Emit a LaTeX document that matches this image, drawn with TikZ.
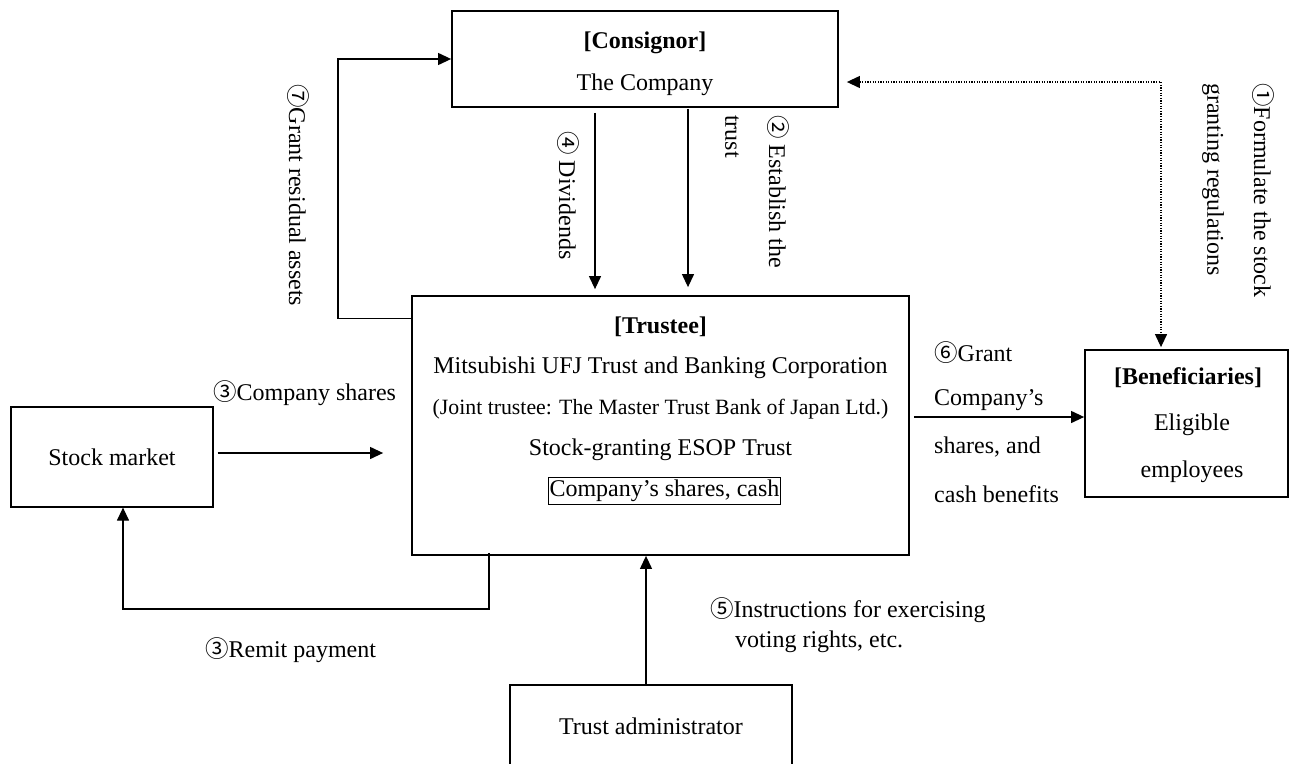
\documentclass[tikz,border=0pt]{standalone}
\usepackage{fontspec}
\setmainfont{Liberation Serif}
\newfontfamily\cnumfont{Noto Sans CJK JP}
\usetikzlibrary{arrows.meta,calc}
\newcommand\cnum[1]{{\cnumfont\fontsize{23.5}{23.5}\selectfont #1}}
\begin{document}
\begin{tikzpicture}[x=1pt,y=-1pt,
  txt/.style={font=\fontsize{24}{28}\selectfont, inner sep=0pt},
  smalltxt/.style={font=\fontsize{21.8}{26}\selectfont, inner sep=0pt},
  bigbox/.style={draw, line width=1.8pt, inner sep=0pt},
  smallbox/.style={draw, line width=1.2pt, inner sep=0pt},
  arr/.style={line width=1.2pt, -{Triangle[length=13pt,width=12pt]}},
  dotarr/.style={line width=1.2pt, dash pattern=on 1.2pt off 1.4pt, {Triangle[length=13pt,width=12pt]}-{Triangle[length=13pt,width=12pt]}},
  vlbl/.style={txt, rotate=-90, anchor=west}]
\clip (0,0) rectangle (1298,763);

% boxes
\node[bigbox, minimum width=386pt, minimum height=96pt] (consignor) at (645,59) {};
\node[bigbox, minimum width=497pt, minimum height=259pt] (trustee) at (660.5,425.5) {};
\node[smallbox, minimum width=202pt, minimum height=100pt] (stock) at (112,457) {};
\node[bigbox, minimum width=203pt, minimum height=147pt] (benef) at (1186.5,423.5) {};
\node[smallbox, minimum width=282pt, minimum height=130pt] (admin) at (651,750) {};

% box texts
\node[txt] (constitle) at (645,43) {\textbf{[Consignor]}};
\node[txt] (constext) at (645,85) {The Company};
\node[txt] (trtitle) at (660.5,327) {\textbf{[Trustee]}};
\node[txt] (trname) at (660.5,368) {Mitsubishi UFJ Trust and Banking Corporation};
\node[smalltxt] (trjoint) at (660.5,409) {(Joint trustee: The Master Trust Bank of Japan Ltd.)};
\node[txt] (tresop) at (660.5,450) {Stock-granting ESOP Trust};
\node[txt, draw, line width=1.1pt, inner xsep=1pt, inner ysep=2.5pt] (trassets) at (664.5,491) {Company’s shares, cash};
\node[txt] (stocktext) at (112,457) {Stock market};
\node[txt] (bentitle) at (1188,378) {\textbf{[Beneficiaries]}};
\node[txt] (bentext1) at (1192,425) {Eligible};
\node[txt] (bentext2) at (1192,472) {employees};
\node[txt] (admintext) at (651,726) {Trust administrator};

% labels
\node[vlbl] (lbl7) at (298,84) {\cnum{⑦}Grant residual assets};
\node[vlbl] (lbl4) at (568,131) {\cnum{④} Dividends};
\node[vlbl] (lbl2a) at (778,115) {\cnum{②} Establish the};
\node[vlbl] (lbl2b) at (732,115) {trust};
\node[vlbl] (lbl1a) at (1263,83) {\cnum{①}Formulate the stock};
\node[vlbl] (lbl1b) at (1213,83) {granting regulations};
\node[txt, anchor=west] (lbl3a) at (213,393) {\cnum{③}Company shares};
\node[txt, anchor=west] (lbl3b) at (205,650) {\cnum{③}Remit payment};
\node[txt, anchor=west] (lbl5a) at (710,610) {\cnum{⑤}Instructions for exercising};
\node[txt, anchor=west] (lbl5b) at (735,642) {voting rights, etc.};
\node[txt, anchor=west] (lbl6a) at (934,353) {\cnum{⑥}Grant};
\node[txt, anchor=west] (lbl6b) at (934,400) {Company’s};
\node[txt, anchor=west] (lbl6c) at (934,447) {shares, and};
\node[txt, anchor=west] (lbl6d) at (934,494) {cash benefits};

% connectors
\coordinate (c7) at (338,59);
\draw[arr] ([yshift=-23pt]trustee.north west) -| (c7) -- (consignor.west);
\draw[arr] ([xshift=-50pt,yshift=-5pt]consignor.south) -- ([xshift=-65.5pt,yshift=6pt]trustee.north);
\draw[arr] ([xshift=43pt,yshift=-1pt]consignor.south) -- ([xshift=27.5pt,yshift=8pt]trustee.north);
\draw[dotarr] ([xshift=8pt,yshift=-23pt]consignor.east) -| ([xshift=-25.5pt,yshift=2pt]benef.north);
\coordinate (s3) at ([xshift=4pt,yshift=4pt]stock.east);
\draw[arr] (s3) -- ($(s3 -| trustee.west)+(-28pt,0)$);
\draw[arr] ([xshift=4pt,yshift=8.5pt]trustee.east) -- ([yshift=6.5pt]benef.west);
\coordinate (r3) at (123,609);
\draw[arr] ([xshift=-171.5pt,yshift=3pt]trustee.south) |- (r3) -- (r3 |- stock.south);
\coordinate (a5) at ([xshift=-5pt]admin.north);
\draw[arr] (a5) -- (a5 |- trustee.south);
\end{tikzpicture}
\end{document}
